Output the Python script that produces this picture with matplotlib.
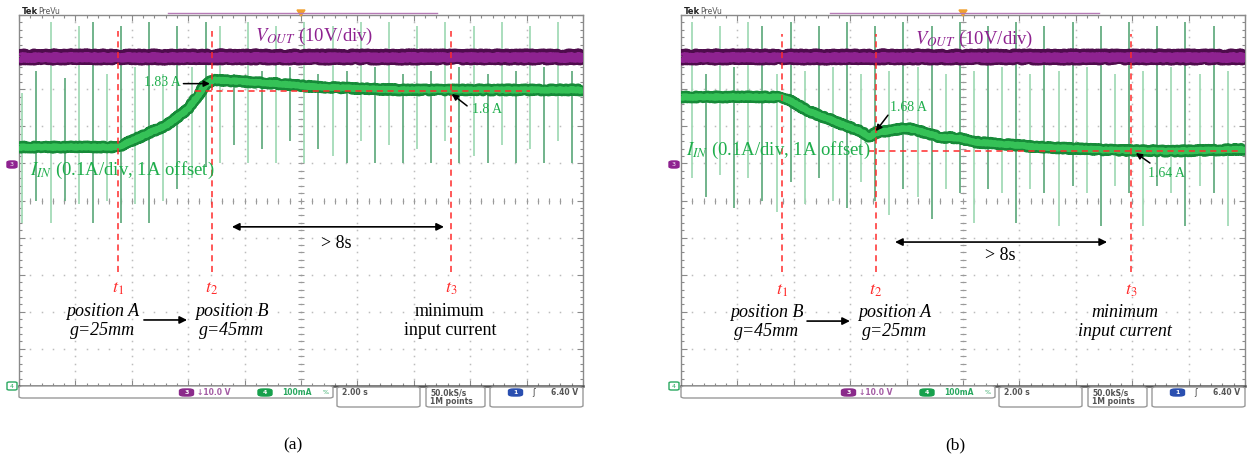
import matplotlib
matplotlib.use('Agg')
import matplotlib.pyplot as plt
import numpy as np
from matplotlib.patches import FancyBboxPatch, Polygon

plt.rcParams['mathtext.fontset'] = 'stix'
plt.rcParams['font.family'] = ['Liberation Serif', 'DejaVu Serif']

W, H = 1248, 457

# ---------------- scope settings ----------------
time_per_div = 2.0       # s/div
iin_scale = 0.1          # A/div
iin_offset = 1.0         # A
vout_scale = 10.0        # V/div
vout_ground_div = 6.0    # channel-3 ground marker position (div)

# ---------------- panel (a) data ----------------
iin_t_a = [-10, -6.49, -5.71, -4.75, -4.04, -3.69, -3.40, -3.12, -1.21, 0.57, 3.51, 10]
iin_a = [1.644, 1.644, 1.671, 1.704, 1.744, 1.779, 1.811, 1.825, 1.817, 1.806, 1.798, 1.798]
vout_t_a = [-10, 10]
vout_a = [28.7, 28.7]
t_marks_a = [-6.49, -3.16, 5.32]
level_a = 1.795
spike_t_a = [-9.88, -9.38, -8.88, -8.38, -7.88, -7.38, -6.88, -6.38, -5.88, -5.38,
             -4.88, -4.38, -3.88, -3.38, -2.88, -2.38, -1.88, -1.38, -0.88, -0.38,
             0.12, 0.62, 1.12, 1.62, 2.12, 2.62, 3.12, 3.62, 4.12, 4.62,
             5.12, 5.62, 6.12, 6.62, 7.12, 7.62, 8.12, 8.62, 9.12, 9.62]
spike_top_a = [7.9, 8.5, 9.8, 8.3, 9.7, 9.8, 8.4, 9.7, 8.6, 9.8,
               8.4, 9.7, 8.6, 9.8, 9.7, 8.4, 9.8, 8.5, 9.7, 8.6,
               9.8, 8.4, 9.7, 8.5, 9.8, 8.6, 9.8, 8.4, 9.7, 8.5,
               9.8, 8.6, 9.7, 8.4, 9.8, 8.5, 9.7, 8.6, 9.8, 8.5]
spike_bot_a = [4.4, 5.0, 4.4, 5.0, 4.9, 4.4, 5.0, 4.4, 4.9, 4.4,
               5.0, 5.3, 5.6, 5.9, 6.0, 6.5, 6.0, 6.4, 6.0, 6.6,
               6.0, 6.4, 6.2, 6.0, 6.6, 6.0, 6.5, 6.0, 6.4, 6.0,
               6.6, 6.0, 6.2, 6.0, 6.5, 6.0, 6.4, 6.0, 6.6, 6.0]

# ---------------- panel (b) data ----------------
iin_t_b = [-10, -6.42, -6.03, -5.43, -4.82, -4.26, -3.65, -3.30, -3.12, -2.48,
           -1.99, -1.28, -0.82, -0.11, 0.35, 2.73, 5.11, 7.45, 10]
iin_b = [1.779, 1.779, 1.765, 1.739, 1.722, 1.704, 1.687, 1.671, 1.682, 1.690,
         1.695, 1.682, 1.671, 1.668, 1.658, 1.644, 1.636, 1.633, 1.638]
vout_t_b = [-10, 10]
vout_b = [28.7, 28.7]
t_marks_b = [-6.42, -3.09, 5.96]
level_b = 1.634
spike_t_b = [-9.61, -9.11, -8.61, -8.11, -7.61, -7.11, -6.61, -6.11, -5.61, -5.11,
             -4.61, -4.11, -3.61, -3.11, -2.61, -2.11, -1.61, -1.11, -0.61, -0.11,
             0.39, 0.89, 1.39, 1.89, 2.39, 2.89, 3.39, 3.89, 4.39, 4.89,
             5.39, 5.89, 6.39, 6.89, 7.39, 7.89, 8.39, 8.89, 9.39]
spike_top_b = [9.8, 8.4, 9.7, 8.6, 9.8, 9.7, 8.4, 9.8, 8.5, 9.7,
               8.6, 9.8, 8.4, 9.7, 8.5, 9.8, 8.6, 9.7, 8.4, 9.8,
               8.5, 9.7, 8.6, 9.8, 8.4, 9.7, 8.5, 9.8, 8.6, 9.7,
               8.4, 9.8, 8.5, 9.7, 8.6, 9.8, 8.4, 9.7, 8.5]
spike_bot_b = [5.6, 5.1, 5.7, 4.8, 5.6, 5.0, 4.7, 5.5, 4.9, 5.6,
               5.0, 4.8, 5.5, 5.0, 4.6, 5.3, 5.1, 4.5, 5.3, 5.2,
               4.4, 5.3, 5.2, 4.4, 5.3, 5.2, 4.3, 5.4, 5.2, 4.3,
               5.4, 5.2, 4.3, 5.4, 5.2, 4.3, 5.4, 5.2, 4.3]

# ---------------- colours ----------------
PURPLE = '#8e2290'
PURPLE_D = '#4e0c4c'
GREEN = '#35c257'
GREEN_D = '#168a38'
GREEN_TXT = '#1fae4c'
RED = '#ff2b2b'
SPIKE_L = '#a4dbb7'
SPIKE_D = '#66ae82'


def fx(x):
    return x / W


def fy(y):
    return 1 - y / H


fig = plt.figure(figsize=(W / 100, H / 100), dpi=100)
fig.patch.set_facecolor('white')


def amps_to_div(a):
    return (np.asarray(a) - iin_offset) / iin_scale


def volts_to_div(v):
    return vout_ground_div + np.asarray(v) / vout_scale


def draw_panel(x0, iin_t, iin, vout_t, vout, t_marks, level, spk_t, spk_top, spk_bot,
               ann, italic_min, caption):
    ax = fig.add_axes([fx(x0), fy(386), 564 / W, 371 / H])
    ax.set_xlim(-5 * time_per_div, 5 * time_per_div)
    ax.set_ylim(0, 10)
    for s in ax.spines.values():
        s.set_color('#8a8a8a')
        s.set_linewidth(1.0)
    ax.spines['bottom'].set_color('#555555')
    ax.spines['bottom'].set_linewidth(1.8)
    ax.set_xticks(np.arange(-10, 10.01, 2))
    ax.set_yticks(np.arange(0, 10.01, 1))
    ax.set_xticks(np.arange(-10, 10.01, 0.4), minor=True)
    ax.set_yticks(np.arange(0, 10.01, 0.2), minor=True)
    ax.tick_params(which='both', direction='in', top=True, right=True,
                   labelbottom=False, labelleft=False, color='#8a8a8a')
    ax.tick_params(which='major', length=4, width=0.8)
    ax.tick_params(which='minor', length=2.5, width=0.8)

    # graticule dots
    xs = np.arange(-10, 10.01, 0.4)
    ys = np.arange(0, 10.01, 0.2)
    for gy in range(1, 10):
        ax.plot(xs, np.full_like(xs, gy), ls='none', marker='s', ms=1.1,
                color='#bdbdbd', mew=0, zorder=1)
    for gx in np.arange(-8, 8.01, 2):
        ax.plot(np.full_like(ys, gx), ys, ls='none', marker='s', ms=1.1,
                color='#bdbdbd', mew=0, zorder=1)
    ax.plot(xs, np.full_like(xs, 5), ls='none', marker='|', ms=4,
            color='#9a9a9a', mew=0.8, zorder=1)
    ax.plot(np.zeros_like(ys), ys, ls='none', marker='_', ms=4,
            color='#9a9a9a', mew=0.8, zorder=1)

    # spikes
    for i, (t, a, b) in enumerate(zip(spk_t, spk_top, spk_bot)):
        ax.vlines(t, b, a, color=SPIKE_L if i % 2 == 0 else SPIKE_D,
                  lw=1.3, zorder=2)

    # traces (sketch gives the noisy scope look)
    vy = volts_to_div(vout)
    l1, = ax.plot(vout_t, vy, color=PURPLE_D, lw=10, solid_capstyle='butt', zorder=3)
    l1.set_sketch_params(1.6, 1.2, 3.0)
    l2, = ax.plot(vout_t, vy, color=PURPLE, lw=6.5, solid_capstyle='butt', zorder=3)
    l2.set_sketch_params(0.8, 1.2, 3.0)
    iy = amps_to_div(iin)
    l3, = ax.plot(iin_t, iy, color=GREEN_D, lw=7.5, solid_capstyle='butt', zorder=4)
    l3.set_sketch_params(1.3, 1.2, 3.0)
    l4, = ax.plot(iin_t, iy, color=GREEN, lw=4.5, solid_capstyle='butt', zorder=4)
    l4.set_sketch_params(0.6, 1.2, 3.0)

    # markers t1..t3
    for k, t in enumerate(t_marks):
        ax.plot([t, t], [ann['tline_lo'], ann['tline_hi']], color=RED, lw=1.1,
                dashes=(4, 3), zorder=6)
        ax.text(t, ann['tlab_y'], r'$t_{%d}$' % (k + 1), color=RED, fontsize=13,
                ha='center', va='center', zorder=7)
    lv = amps_to_div(level)
    ax.plot(ann['level_x'], [lv, lv], color=RED, lw=1.1, dashes=(4, 3), zorder=6)

    # labels
    ax.text(ann['vout_xy'][0], ann['vout_xy'][1], r'$V_{OUT}$ (10V/div)', color=PURPLE,
            fontsize=13.5, ha='left', va='center', zorder=7)
    ax.text(ann['iin_xy'][0], ann['iin_xy'][1], r'$I_{IN}$ (0.1A/div, 1A offset)',
            color=GREEN_TXT, fontsize=13.5, ha='left', va='center', zorder=7)
    for (txt, txy, ha, tail, head) in ann['values']:
        ax.text(txy[0], txy[1], txt, color=GREEN_TXT, fontsize=10, ha=ha, va='center',
                zorder=7)
        ax.annotate('', xy=head, xytext=tail,
                    arrowprops=dict(arrowstyle='-|>', color='k', lw=1.1,
                                    mutation_scale=9, shrinkA=0, shrinkB=0), zorder=7)

    # > 8s arrow
    ax.annotate('', xy=ann['dbl'][1], xytext=ann['dbl'][0],
                arrowprops=dict(arrowstyle='<|-|>', color='k', lw=1.2,
                                mutation_scale=11, shrinkA=0, shrinkB=0))
    ax.text(ann['dbl_txt'][0], ann['dbl_txt'][1], '> 8s', fontsize=13,
            ha='center', va='center')

    # positions
    p1, p2 = ann['pos']
    ax.text(p1[0], p1[1], p1[2], fontsize=13, style='italic', ha='center', va='center',
            linespacing=1.15)
    ax.text(p2[0], p2[1], p2[2], fontsize=13, style='italic', ha='center', va='center',
            linespacing=1.15)
    ax.annotate('', xy=ann['pos_arrow'][1], xytext=ann['pos_arrow'][0],
                arrowprops=dict(arrowstyle='-|>', color='k', lw=1.2,
                                mutation_scale=11, shrinkA=0, shrinkB=0))
    ax.text(ann['min_xy'][0], ann['min_xy'][1], 'minimum\ninput current', fontsize=13,
            style='italic' if italic_min else 'normal', ha='center', va='center',
            linespacing=1.15)

    # ---- decorations outside the graticule (figure pixel coords) ----
    dx = x0 - 19
    fig.text(fx(22 + dx), fy(12), 'Tek', fontsize=6, fontweight='bold',
             family='DejaVu Sans', ha='left', va='center', color='#222222')
    fig.text(fx(38 + dx), fy(12), 'PreVu', fontsize=5.5, family='DejaVu Sans',
             ha='left', va='center', color='#555555')
    fig.add_artist(plt.Line2D([fx(168 + dx), fx(437 + dx)], [fy(13), fy(13)],
                              color='#b57ab5', lw=1.0))
    fig.add_artist(Polygon([[fx(297 + dx), fy(10)], [fx(305 + dx), fy(10)],
                            [fx(301 + dx), fy(16)]], closed=True,
                           color='#f0a030'))
    # channel markers on left
    fig.add_artist(FancyBboxPatch((fx(7 + dx), fy(168)), 10 / W, 7 / H,
                                  boxstyle='round,pad=0.0,rounding_size=0.003',
                                  color=PURPLE))
    fig.text(fx(12 + dx), fy(164.5), '3', fontsize=4.5, color='white',
             family='DejaVu Sans', ha='center', va='center')
    fig.add_artist(FancyBboxPatch((fx(7 + dx), fy(390)), 10 / W, 8 / H,
                                  boxstyle='round,pad=0.0,rounding_size=0.002',
                                  facecolor='white', edgecolor='#2aa860', lw=1.0))
    fig.text(fx(12 + dx), fy(386), '4', fontsize=4.5, color='#2aa860',
             family='DejaVu Sans', ha='center', va='center')

    # status bar
    def box(xa, ya, xb, yb):
        fig.add_artist(FancyBboxPatch((fx(xa), fy(yb)), (xb - xa) / W, (yb - ya) / H,
                                      boxstyle='round,pad=0.0,rounding_size=0.003',
                                      facecolor='white', edgecolor='#9a9a9a', lw=1.0))
    box(19 + dx, 386, 333 + dx, 398)
    box(337 + dx, 387, 420 + dx, 407)
    box(426 + dx, 387, 485 + dx, 407)
    box(490 + dx, 387, 583 + dx, 407)

    def pill(xc, yc, col, label):
        fig.add_artist(FancyBboxPatch((fx(xc - 7), fy(yc + 3.5)), 14 / W, 7 / H,
                                      boxstyle='round,pad=0.0,rounding_size=0.004',
                                      color=col))
        fig.text(fx(xc), fy(yc), label, fontsize=4.5, color='white',
                 family='DejaVu Sans', fontweight='bold', ha='center', va='center')
    st = dict(fontsize=5.5, family='DejaVu Sans', fontweight='bold', va='center')
    pill(186.5 + dx, 392.5, '#8a2a8a', '3')
    fig.text(fx(197 + dx), fy(392.5), '\u219310.0 V', color='#a45ca4', ha='left', **st)
    pill(265 + dx, 392.5, '#16a04c', '4')
    fig.text(fx(282 + dx), fy(392.5), '100mA', color='#2aa860', ha='left', **st)
    fig.text(fx(323 + dx), fy(392.5), '%', color='#2aa860', ha='left',
             fontsize=4.5, family='DejaVu Sans', va='center')
    fig.text(fx(342 + dx), fy(392.5), '2.00 s', color='#555555', ha='left', **st)
    fig.text(fx(430 + dx), fy(392.5), '50.0kS/s', color='#555555', ha='left', **st)
    fig.text(fx(430 + dx), fy(401.5), '1M points', color='#555555', ha='left', **st)
    pill(515.5 + dx, 392.5, '#2a4fb0', '1')
    fig.text(fx(532 + dx), fy(392.5), '\u0283', color='#444444', ha='left',
             fontsize=6, family='DejaVu Sans', va='center')
    fig.text(fx(551 + dx), fy(392.5), '6.40 V', color='#555555', ha='left', **st)

    fig.text(fx(caption[1]), fy(445), caption[0], fontsize=12.5, ha='center',
             va='center')
    return ax


ann_a = dict(
    tline_lo=3.07, tline_hi=9.57, tlab_y=2.62,
    level_x=[-3.76, 8.12],
    vout_xy=(-1.63, 9.41),
    iin_xy=(-9.61, 5.80),
    values=[('1.83 A', (-4.27, 8.17), 'right', (-4.17, 8.15), (-3.23, 8.15)),
            ('1.8 A', (6.06, 7.44), 'left', (5.89, 7.55), (5.35, 7.87))],
    dbl=((-2.45, 4.29), (5.07, 4.29)), dbl_txt=(1.24, 3.85),
    pos=((-7.02, 1.76, 'position A\ng=25mm'), (-2.45, 1.76, 'position B\ng=45mm')),
    pos_arrow=((-5.57, 1.78), (-4.04, 1.78)),
    min_xy=(5.28, 1.76),
)
ann_b = dict(
    tline_lo=3.07, tline_hi=9.5, tlab_y=2.57,
    level_x=[-3.37, 9.82],
    vout_xy=(-1.70, 9.33),
    iin_xy=(-9.82, 6.36),
    values=[('1.68 A', (-2.59, 7.52), 'left', (-2.66, 7.30), (-3.09, 6.87)),
            ('1.64 A', (6.56, 5.74), 'left', (6.63, 6.01), (6.13, 6.28))],
    dbl=((-2.41, 3.88), (5.11, 3.88)), dbl_txt=(1.31, 3.53),
    pos=((-6.95, 1.73, 'position B\ng=45mm'), (-2.41, 1.73, 'position A\ng=25mm')),
    pos_arrow=((-5.53, 1.75), (-4.01, 1.75)),
    min_xy=(5.74, 1.73),
)

draw_panel(19, iin_t_a, iin_a, vout_t_a, vout_a, t_marks_a, level_a,
           spike_t_a, spike_top_a, spike_bot_a, ann_a, False, ('(a)', 293))
draw_panel(681, iin_t_b, iin_b, vout_t_b, vout_b, t_marks_b, level_b,
           spike_t_b, spike_top_b, spike_bot_b, ann_b, True, ('(b)', 955))

fig.savefig('out.png', dpi=100, facecolor='white')
